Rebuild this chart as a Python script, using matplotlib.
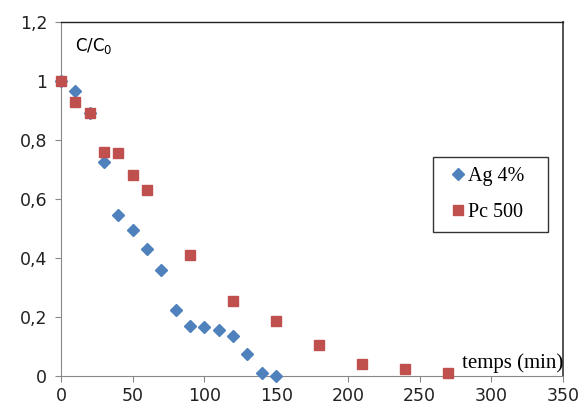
import matplotlib.pyplot as plt
from matplotlib.ticker import FuncFormatter

# données
t_ag = [0, 10, 20, 30, 40, 50, 60, 70, 80, 90, 100, 110, 120, 130, 140, 150]
c_ag = [1.0, 0.965, 0.89, 0.725, 0.545, 0.495, 0.43, 0.36, 0.225, 0.17, 0.165, 0.155, 0.135, 0.075, 0.01, 0.0]

t_pc = [0, 10, 20, 30, 40, 50, 60, 90, 120, 150, 180, 210, 240, 270]
c_pc = [1.0, 0.93, 0.89, 0.76, 0.755, 0.68, 0.63, 0.41, 0.255, 0.185, 0.105, 0.04, 0.025, 0.01]

x_ticks = [0, 50, 100, 150, 200, 250, 300, 350]
y_ticks = [0, 0.2, 0.4, 0.6, 0.8, 1.0, 1.2]

fig = plt.figure(figsize=(5.84, 4.17), dpi=100)
ax = fig.add_axes([0.1045, 0.0983, 0.8595, 0.849])

ax.plot(t_ag, c_ag, linestyle='none', marker='D', markersize=5.8,
        color='#4F81BD', label='Ag 4%', clip_on=False, zorder=3)
ax.plot(t_pc, c_pc, linestyle='none', marker='s', markersize=7.5,
        color='#C0504D', label='Pc 500', clip_on=False, zorder=3)

ax.set_xlim(0, 350)
ax.set_ylim(0, 1.2)
ax.set_xticks(x_ticks)
ax.set_yticks(y_ticks)
ax.yaxis.set_major_formatter(FuncFormatter(lambda v, p: ('%g' % v).replace('.', ',')))
ax.tick_params(labelsize=12.5, length=4, color='#888888', pad=6, labelcolor='#222222')
ax.tick_params(axis='x', pad=4)

ax.spines['left'].set_color('#888888')
ax.spines['bottom'].set_color('#888888')
ax.spines['top'].set_color('#222222')
ax.spines['right'].set_color('#444444')
ax.spines['right'].set_linewidth(1.3)
ax.spines['top'].set_linewidth(1.0)

ax.text(10, 1.12, 'C/C$_0$', fontsize=12, ha='left', va='center')
ax.text(350, 0.045, 'temps (min)', fontsize=15, family='Liberation Serif',
        ha='right', va='center')

leg = ax.legend(loc='upper left', bbox_to_anchor=(0.741, 0.419, 0.229, 0.2),
                mode='expand', frameon=True, fancybox=False, edgecolor='black',
                handlelength=1.45, handletextpad=-0.2, borderpad=0.5,
                labelspacing=0.85, borderaxespad=0,
                prop={'family': 'Liberation Serif', 'size': 14.5})
leg.get_frame().set_linewidth(1.0)

fig.savefig('out.png', dpi=100)
